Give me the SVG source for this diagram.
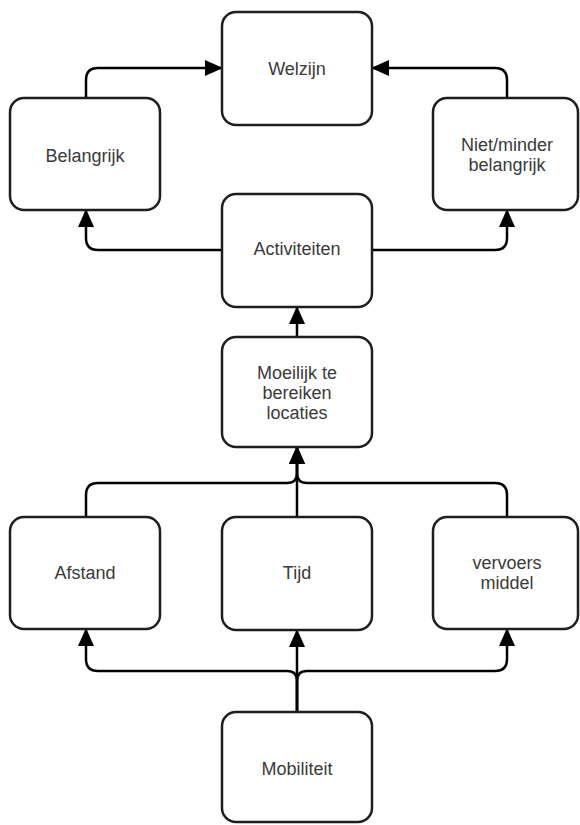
<svg xmlns="http://www.w3.org/2000/svg" width="580" height="825" viewBox="0 0 580 825">
<style>
.box{fill:#fff;stroke:#1e1e1e;stroke-width:2.5}
.lbl{font-family:"Liberation Sans",Arial,sans-serif;font-size:18px;fill:#3a3a3a;text-anchor:middle}
.edge{fill:none;stroke:#000;stroke-width:2.5;marker-end:url(#ah)}
</style>
<defs>
<marker id="ah" markerUnits="userSpaceOnUse" markerWidth="18" markerHeight="16" viewBox="0 0 18 16" refX="17" refY="8" orient="auto">
<path d="M0,0 L18,8 L0,16 Z" fill="#000"/>
</marker>
</defs>
<rect width="580" height="825" fill="#fff"/>
<g id="connectors">
<path class="edge" d="M86,98 V80 Q86,68 98,68 H222"/>
<path class="edge" d="M507,98 V80 Q507,68 495,68 H372"/>
<path class="edge" d="M222,250 H98 Q86,250 86,238 V210"/>
<path class="edge" d="M372,250 H495 Q507,250 507,238 V210"/>
<path class="edge" d="M297,337 V307"/>
<path class="edge" d="M86,517 V495 Q86,483 98,483 H287 Q297,483 297,473 V447"/>
<path class="edge" d="M297,517 V447"/>
<path class="edge" d="M507,517 V495 Q507,483 495,483 H307 Q297,483 297,473 V447"/>
<path class="edge" d="M297,712 V681 Q297,671 287,671 H98 Q86,671 86,659 V629"/>
<path class="edge" d="M297,712 V630"/>
<path class="edge" d="M297,712 V681 Q297,671 307,671 H495 Q507,671 507,659 V629"/>
</g>
<g id="welzijn"><rect class="box" x="222" y="12" width="150" height="113" rx="14"/><text class="lbl" x="297" y="75">Welzijn</text></g>
<g id="belangrijk"><rect class="box" x="10" y="98" width="150" height="112" rx="14"/><text class="lbl" x="85" y="162">Belangrijk</text></g>
<g id="nietminder"><rect class="box" x="433" y="98" width="145" height="112" rx="14"/><text class="lbl" x="507" y="151">Niet/minder</text><text class="lbl" x="507" y="171">belangrijk</text></g>
<g id="activiteiten"><rect class="box" x="222" y="194" width="150" height="113" rx="14"/><text class="lbl" x="297" y="255">Activiteiten</text></g>
<g id="moeilijk"><rect class="box" x="222" y="337" width="150" height="110" rx="14"/><text class="lbl" x="297" y="379">Moeilijk te</text><text class="lbl" x="297" y="399">bereiken</text><text class="lbl" x="297" y="419">locaties</text></g>
<g id="afstand"><rect class="box" x="10" y="517" width="150" height="112" rx="14"/><text class="lbl" x="85" y="579">Afstand</text></g>
<g id="tijd"><rect class="box" x="222" y="517" width="150" height="113" rx="14"/><text class="lbl" x="297" y="579">Tijd</text></g>
<g id="vervoersmiddel"><rect class="box" x="433" y="517" width="145" height="112" rx="14"/><text class="lbl" x="507" y="569">vervoers</text><text class="lbl" x="507" y="589">middel</text></g>
<g id="mobiliteit"><rect class="box" x="222" y="712" width="150" height="110" rx="14"/><text class="lbl" x="297" y="775">Mobiliteit</text></g>
</svg>
